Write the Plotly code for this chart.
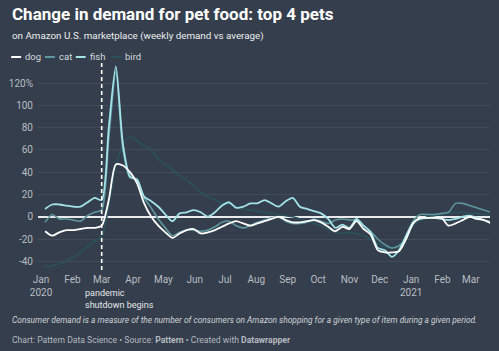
import plotly.graph_objects as go
import pandas as pd

# ---- data (weekly, % change vs average) ----
dates = pd.date_range("2020-01-05", periods=64, freq="7D").strftime("%Y-%m-%d").tolist()

dog = [-13, -17, -14, -12, -12, -11, -10, -10, -8, 15, 47, 46, 40, 30, 12, 0,
       -8, -14, -19, -15, -12, -11, -15, -14, -12, -9, -6, -4, -6, -8, -6, -4,
       -2, 0, -3, -5, -5, -4, -3, -5, -9, -13, -9, -11, -4, -11, -16, -30,
       -32, -32, -31, -20, -6, -1, -1, -1, -1, -8, -6, -3, 0, -2, -3, -6]

cat = [-5, 2, -2, -2, -3, -4, 1, 4, 6, 70, 130, 60, 35, 34, 17, 8,
       -2, -10, -17, -14, -12, -12, -13, -12, -9, -5, -4, -8, -10, -8, -5, -3,
       -1, 0, -4, -6, -6, -5, -2, -4, -6, -3, -2, -3, -3, -8, -13, -20,
       -25, -28, -26, -20, -4, 2, 2, 2, 3, 4, 12, 12, 10, 8, 6, 4]

fish = [7, 11, 11, 10, 9, 9, 13, 17, 15, 80, 135, 65, 36, 33, 18, 14,
        9, 2, -4, 3, 4, 6, 4, 0, 4, 10, 13, 8, 9, 12, 12, 15,
        12, 9, 14, 17, 9, 7, 5, 3, -2, -10, -7, -10, -2, -8, -14, -28,
        -30, -36, -30, -17, -5, -2, -1, -1, -2, -3, -2, 0, 1, -1, -3, -5]

bird = [-45, -44, -42, -40, -36, -32, -27, -22, -18, 10, 45, 65, 72, 68, 64, 60,
        52, 47, 42, 37, 33, 27, 22, 18, 15, 12, 11, 9, 7, 6, 5, 4,
        3, 2, 1, 0, -2, -4, -6, -8, -11, -14, -15, -14, -15, -17, -20, -24,
        -27, -28, -26, -18, -8, -3, 0, 1, 2, 3, 4, 4, 3, 3, 2, 2]

series = [("bird", bird, "#2b525b", 1.6),
          ("cat", cat, "#5f979e", 1.6),
          ("fish", fish, "#a3e3e8", 1.8),
          ("dog", dog, "#ffffff", 1.8)]

month_ticks = ["2020-01-01", "2020-02-01", "2020-03-01", "2020-04-01", "2020-05-01",
               "2020-06-01", "2020-07-01", "2020-08-01", "2020-09-01", "2020-10-01",
               "2020-11-01", "2020-12-01", "2021-01-01", "2021-02-01", "2021-03-01"]
month_labels = ["Jan<br>2020", "Feb", "Mar", "Apr", "May", "Jun", "Jul", "Aug", "Sep",
                "Oct", "Nov", "Dec", "Jan<br>2021", "Feb", "Mar"]
y_ticks = [-40, -20, 0, 20, 40, 60, 80, 100, 120]
y_labels = ["-40", "-20", "0", "20", "40", "60", "80", "100", "120%"]
legend_names = ["dog", "cat", "fish", "bird"]
legend_colors = ["#ffffff", "#5f979e", "#a3e3e8", "#2b525b"]

BG = "#343e4c"
FONT = "Roboto"

fig = go.Figure()
for name, vals, color, w in series:
    fig.add_trace(go.Scatter(x=dates, y=vals, mode="lines", name=name,
                             line=dict(color=color, width=w, shape="spline", smoothing=0.7),
                             showlegend=False, hoverinfo="skip"))

# plot area in pixels
L, R, T, B = 35, 490, 63, 268
W, H = 499, 351

def px(xp):
    return (xp - L) / (R - L)

def py(yp):
    return (B - yp) / (B - T)

shapes = []
annotations = []

# dashed marker line
shapes.append(dict(type="line", xref="x", yref="paper", x0="2020-03-01", x1="2020-03-01",
                   y0=-0.01, y1=1.0, line=dict(color="#ffffff", width=1.6, dash="4px,3px")))
annotations.append(dict(xref="paper", yref="paper", x=px(80), y=py(286), xanchor="left",
                        yanchor="top", align="left", showarrow=False,
                        text="pandemic<br>shutdown begins",
                        font=dict(family=FONT, size=9, color="#e6e8ea")))

# legend (manual)
leg_x = [8, 42, 73, 109]
for xs, nm, col in zip(leg_x, legend_names, legend_colors):
    shapes.append(dict(type="line", xref="paper", yref="paper", x0=px(xs), x1=px(xs + 10),
                       y0=py(57), y1=py(57), line=dict(color=col, width=2)))
    annotations.append(dict(xref="paper", yref="paper", x=px(xs + 12), y=py(57),
                            xanchor="left", yanchor="middle", showarrow=False, text=nm,
                            font=dict(family=FONT, size=9.5, color="#d6d9dc")))

# title / subtitle / notes
annotations.append(dict(xref="paper", yref="paper", x=px(7), y=py(14), xanchor="left",
                        yanchor="middle", showarrow=False,
                        text="<b>Change in demand for pet food: top 4 pets</b>",
                        font=dict(family=FONT, size=17, color="#ffffff")))
annotations.append(dict(xref="paper", yref="paper", x=px(7), y=py(36), xanchor="left",
                        yanchor="middle", showarrow=False,
                        text="on Amazon U.S. marketplace (weekly demand vs average)",
                        font=dict(family=FONT, size=9.8, color="#eceef0")))
annotations.append(dict(xref="paper", yref="paper", x=px(7), y=py(320), xanchor="left",
                        yanchor="middle", showarrow=False,
                        text="<i>Consumer demand is a measure of the number of consumers on Amazon shopping for a given type of item during a given period.</i>",
                        font=dict(family=FONT, size=8.4, color="#d0d4d8")))
annotations.append(dict(xref="paper", yref="paper", x=px(7), y=py(340), xanchor="left",
                        yanchor="middle", showarrow=False,
                        text="Chart: Pattern Data Science • Source: <b>Pattern</b> • Created with <b>Datawrapper</b>",
                        font=dict(family=FONT, size=8.6, color="#b4bac0")))

fig.update_layout(
    width=W, height=H,
    margin=dict(l=L, r=W - R, t=T, b=H - B, pad=0),
    paper_bgcolor=BG, plot_bgcolor=BG,
    font=dict(family=FONT, size=10, color="#b8bdc3"),
    shapes=shapes, annotations=annotations,
    showlegend=False,
)
fig.update_xaxes(type="date", range=["2019-12-29", "2021-03-20"],
                 tickvals=month_ticks, ticktext=month_labels,
                 showgrid=False, zeroline=False, showline=False, ticks="",
                 ticklabelstandoff=4,
                 tickfont=dict(family=FONT, size=10, color="#b8bdc3"))
fig.update_yaxes(range=[-46, 138], tickvals=y_ticks, ticktext=y_labels,
                 showgrid=True, gridcolor="rgba(255,255,255,0.07)", gridwidth=1,
                 zeroline=True, zerolinecolor="#e8eaec", zerolinewidth=1.5,
                 showline=False, ticks="", ticklabelstandoff=4,
                 tickfont=dict(family=FONT, size=10, color="#b8bdc3"))

fig.write_html("out.html")
